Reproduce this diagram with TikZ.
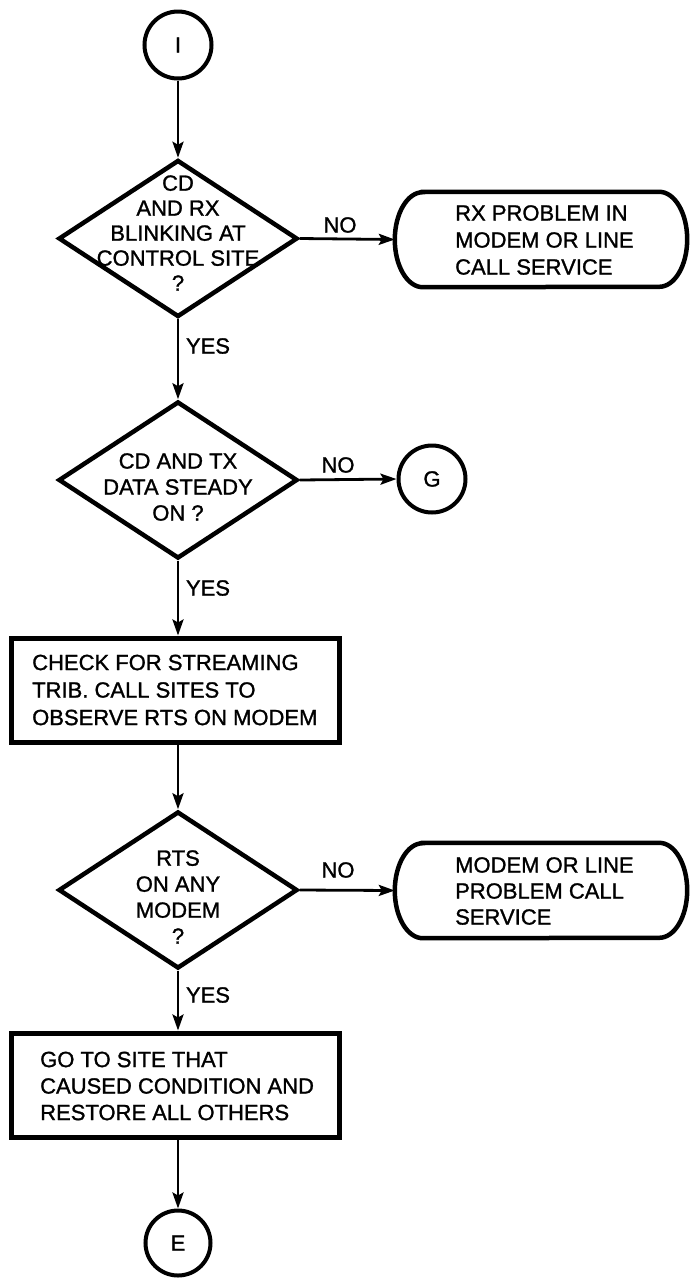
\documentclass[tikz,border=0pt]{standalone}
\usepackage{fontspec}
\setmainfont{Liberation Sans}[FakeBold=1.2]
\usetikzlibrary{shapes.geometric,arrows.meta}
\tikzset{
  txt/.style={inner sep=0pt, font=\fontsize{22}{26}\selectfont},
  dec/.style={diamond, draw, line width=4.5pt, minimum width=239pt, minimum height=157pt, inner sep=0pt},
  conn/.style={circle, draw, line width=4pt, minimum size=67pt, inner sep=0pt, font=\fontsize{22}{26}\selectfont},
  procbox/.style={rectangle, draw, line width=5pt, minimum width=328pt, minimum height=104pt, inner sep=0pt},
  termbox/.style={rectangle, inner sep=0pt, minimum width=292pt, minimum height=95pt},
  termline/.style={line width=4.5pt},
  flow/.style={line width=2.8pt, -{Stealth[length=16pt,width=11pt,inset=3pt]}},
  lab/.style={inner sep=0pt, font=\fontsize{22}{26}\selectfont}
}
\newcommand{\termshape}[1]{%
  \draw[termline] ([xshift=28pt]#1.north west) -- ([xshift=-28pt]#1.north east)
    arc[start angle=90, end angle=-90, x radius=28pt, y radius=47.5pt]
    -- ([xshift=28pt]#1.south west)
    arc[start angle=270, end angle=90, x radius=28pt, y radius=47.5pt] -- cycle;}
\begin{document}
\begin{tikzpicture}[x=1pt,y=-1pt]
\useasboundingbox[fill=white] (0,0) rectangle (689,1278);

% connectors (circles)
\node[conn] (cI) at (178,45) {I};
\node[conn] (cG) at (432,479) {G};
\node[conn, minimum size=65pt] (cE) at (178,1243) {E};

% decisions
\node[dec] (d1) at (178,238.5) {};
\node[txt, align=center, font=\fontsize{22}{25}\selectfont] (t1) at (178,233) {CD\\AND RX\\BLINKING AT\\CONTROL SITE\\?};
\node[dec] (d2) at (178,480) {};
\node[txt, align=center] (t2) at (178,487) {CD AND TX\\DATA STEADY\\ON ?};
\node[dec] (d3) at (178,890) {};
\node[txt, align=center] (t3) at (178,897) {RTS\\ON ANY\\MODEM\\?};

% process boxes
\node[procbox] (b1) at (175,690) {};
\node[txt, align=left, anchor=west, font=\fontsize{22}{27.5}\selectfont] (tb1) at (32,690) {CHECK FOR STREAMING\\TRIB. CALL SITES TO\\OBSERVE RTS ON MODEM};
\node[procbox] (b2) at (175,1085) {};
\node[txt, align=left, anchor=west, font=\fontsize{22}{26.5}\selectfont] (tb2) at (40,1086) {GO TO SITE THAT\\CAUSED CONDITION AND\\RESTORE ALL OTHERS};

% terminal boxes
\node[termbox] (r1) at (541,239.5) {};
\termshape{r1}
\node[txt, align=left, anchor=west, font=\fontsize{22}{27}\selectfont] (tr1) at (455,240) {RX PROBLEM IN\\MODEM OR LINE\\CALL SERVICE};
\node[termbox] (r2) at (541,890.5) {};
\termshape{r2}
\node[txt, align=left, anchor=west] (tr2) at (455,891) {MODEM OR LINE\\PROBLEM CALL\\SERVICE};

% flow arrows
\draw[flow] (cI) -- (d1.north);
\draw[flow] (d1.south) -- (d2.north);
\draw[flow] (d2.south) -- (d2.south |- b1.north);
\draw[flow] (d3.north |- b1.south) -- (d3.north);
\draw[flow] (d3.south) -- (d3.south |- b2.north);
\draw[flow] (cE.north |- b2.south) -- (cE.north);
\draw[flow] (d1.east) -- (r1.west);
\draw[flow] (d2.east) -- (cG.west);
\draw[flow] (d3.east) -- (r2.west);

% labels
\node[lab] (no1) at (340,225) {NO};
\node[lab] (no2) at (338,465) {NO};
\node[lab] (no3) at (338,870) {NO};
\node[lab] (yes1) at (208,346) {YES};
\node[lab] (yes2) at (208,588) {YES};
\node[lab] (yes3) at (208,995) {YES};
\end{tikzpicture}
\end{document}
